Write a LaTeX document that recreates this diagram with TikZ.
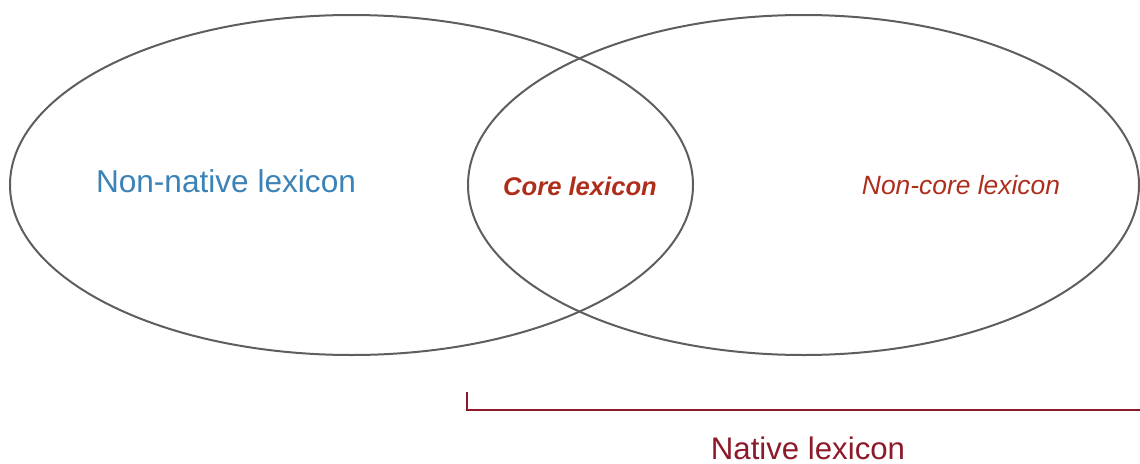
\documentclass[tikz,border=0pt]{standalone}
\usepackage{fontspec}
\setmainfont{Liberation Sans}
\usetikzlibrary{shapes.geometric}
\definecolor{ringgray}{HTML}{5E5E5E}
\definecolor{nonnativeblue}{HTML}{3B82B6}
\definecolor{corered}{HTML}{AE2E1C}
\definecolor{nativered}{HTML}{8C1A2A}
\tikzset{
  setring/.style={draw=ringgray, line width=2pt, ellipse, inner sep=0pt},
  lbl/.style={inner sep=0pt, anchor=base},
  bracketline/.style={draw=nativered, line width=2.4pt}
}
\begin{document}
\begin{tikzpicture}[x=1pt,y=-1pt]
\useasboundingbox (0,0) rectangle (1140,463);
\node[setring, minimum width=683pt, minimum height=340pt] (left) at (351.5,185) {};
\node[setring, minimum width=671pt, minimum height=340pt] (right) at (803.5,185) {};
\node[lbl, text=nonnativeblue, font=\fontsize{31.6}{36}\selectfont] (nonnative) at (226,192.3) {Non-native lexicon};
\node[lbl, text=corered, font=\fontsize{25.6}{30}\selectfont\bfseries\itshape] (core) at (580,195) {Core lexicon};
\node[lbl, text=corered, font=\fontsize{26.4}{30}\selectfont\itshape] (noncore) at (961,194.4) {Non-core lexicon};
\coordinate (btop) at (467,392);
\coordinate (bend) at (1141,410);
\draw[bracketline] (btop) |- (bend);
\node[lbl, text=nativered, font=\fontsize{31.2}{36}\selectfont] (native) at (808,459) {Native lexicon};
\end{tikzpicture}
\end{document}
